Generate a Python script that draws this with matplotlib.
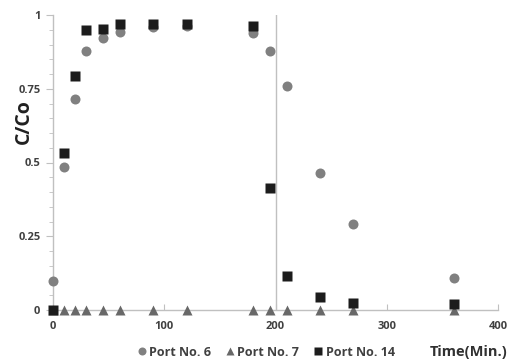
import numpy as np
import matplotlib.pyplot as plt
from matplotlib.ticker import MultipleLocator

plt.rcParams['font.family'] = ['Open Sans', 'DejaVu Sans']

# sampling times (min) and normalised concentration C/Co
t_6 = [0, 10, 20, 30, 45, 60, 90, 120, 180, 195, 210, 240, 270, 360]
c_6 = [0.10, 0.485, 0.715, 0.878, 0.922, 0.942, 0.96, 0.962, 0.94, 0.878, 0.76, 0.465, 0.29, 0.11]

t_7 = [0, 10, 20, 30, 45, 60, 90, 120, 180, 195, 210, 240, 270, 360]
c_7 = [0, 0, 0, 0, 0, 0, 0, 0, 0, 0, 0, 0, 0, 0]

t_14 = [0, 10, 20, 30, 45, 60, 90, 120, 180, 195, 210, 240, 270, 360]
c_14 = [0, 0.532, 0.793, 0.949, 0.953, 0.97, 0.97, 0.97, 0.963, 0.413, 0.115, 0.044, 0.024, 0.02]

x_ticks = [0, 100, 200, 300, 400]
y_ticks = [0, 0.25, 0.5, 0.75, 1]
y_tick_labels = ['0', '0.25', '0.5', '0.75', '1']

fig = plt.figure(figsize=(5.14, 3.64), dpi=100)
ax = fig.add_axes([53 / 514, 1 - 310 / 364, 445 / 514, 295 / 364])

axis_col = '#c0c0c0'
text_col = '#404040'

ax.axvline(200, color=axis_col, lw=1.0, zorder=1)

ax.plot(t_6, c_6, 'o', color='#808080', ms=7.2, mec='none', clip_on=False, zorder=3, label='Port No. 6')
ax.plot(t_7, c_7, '^', color='#686868', ms=7.5, mec='none', clip_on=False, zorder=3, label='Port No. 7')
ax.plot(t_14, c_14, 's', color='#1c1c1c', ms=7.2, mec='none', clip_on=False, zorder=4, label='Port No. 14')

ax.set_xlim(0, 400)
ax.set_ylim(0, 1)
ax.set_xticks(x_ticks)
ax.set_yticks(y_ticks)
ax.set_yticklabels(y_tick_labels)
ax.yaxis.set_minor_locator(MultipleLocator(0.05))

for side in ['top', 'right']:
    ax.spines[side].set_visible(False)
for side in ['left', 'bottom']:
    ax.spines[side].set_color(axis_col)
    ax.spines[side].set_linewidth(1.0)

ax.tick_params(axis='x', direction='in', length=4, color=axis_col, labelsize=8,
               labelcolor=text_col, pad=8)
ax.tick_params(axis='y', which='major', direction='out', length=5, color=axis_col,
               labelsize=8, labelcolor=text_col, pad=4)
ax.tick_params(axis='y', which='minor', direction='out', length=3, color=axis_col)
for lbl in ax.get_xticklabels() + ax.get_yticklabels():
    lbl.set_fontweight('bold')

fig.text(24 / 514, 1 - 122 / 364, 'C/Co', rotation=90, ha='center', va='center',
         fontsize=14, fontweight='bold', color='#202020')
fig.text(508 / 514, 1 - 352 / 364, 'Time(Min.)', ha='right', va='center',
         fontsize=10.5, fontweight='bold', color='#303030')

leg = fig.legend(loc='center', bbox_to_anchor=(265 / 514, 1 - 352 / 364), ncol=3,
                 frameon=False, fontsize=9, handletextpad=0.1, columnspacing=1.0,
                 handlelength=1.0, markerscale=0.8)
for txt in leg.get_texts():
    txt.set_fontweight('bold')
    txt.set_color(text_col)

fig.savefig('out.png', dpi=100)
